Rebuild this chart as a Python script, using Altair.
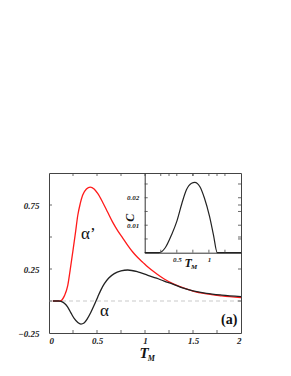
import altair as alt
import pandas as pd

# main curves: alpha' (red) and alpha (black)
t_red = [0.04, 0.10, 0.125, 0.16, 0.195, 0.22, 0.247, 0.275, 0.30, 0.325, 0.35, 0.39, 0.43, 0.47,
         0.507, 0.56, 0.61, 0.66, 0.715, 0.77, 0.82, 0.87, 0.924, 0.98, 1.03, 1.12, 1.20, 1.29,
         1.40, 1.50, 1.64, 1.80, 2.00]
alpha_prime = [0.0, 0.0, 0.003, 0.04, 0.12, 0.24, 0.38, 0.53, 0.67, 0.76, 0.826, 0.875, 0.89, 0.875,
               0.84, 0.77, 0.695, 0.62, 0.55, 0.49, 0.435, 0.385, 0.34, 0.30, 0.265, 0.213, 0.172, 0.136,
               0.102, 0.077, 0.055, 0.040, 0.026]

t_black = [0.04, 0.10, 0.125, 0.16, 0.195, 0.23, 0.264, 0.30, 0.333, 0.365, 0.40, 0.435, 0.47, 0.507,
           0.54, 0.577, 0.62, 0.68, 0.75, 0.82, 0.924, 1.03, 1.12, 1.20, 1.29, 1.40, 1.50, 1.64,
           1.80, 2.00]
alpha = [0.0, 0.0, -0.003, -0.018, -0.047, -0.095, -0.138, -0.168, -0.18, -0.172, -0.138, -0.09,
         -0.034, 0.03, 0.085, 0.135, 0.178, 0.214, 0.235, 0.242, 0.228, 0.200, 0.178, 0.155, 0.132,
         0.100, 0.080, 0.060, 0.046, 0.034]

# inset curve C(T_M)
t_inset = [0.0, 0.22, 0.32, 0.42, 0.50, 0.58, 0.65, 0.73, 0.78, 0.86, 0.93, 1.01, 1.07, 1.13, 1.5]
c_vals = [0.0, 0.0, 0.0018, 0.0066, 0.0114, 0.018, 0.0229, 0.0253, 0.0256, 0.024, 0.0199, 0.0132,
          0.0066, 0.0, 0.0]

# ticks
x_labels = [0, 0.5, 1, 1.5, 2]
y_labels = [-0.25, 0.25, 0.75]
x_ticks = [0.25, 0.5, 0.75, 1.0, 1.25, 1.5, 1.75]
y_ticks = [0.0, 0.25, 0.5, 0.75]
inset_x_labels = [0.5, 1]
inset_y_labels = [0.01, 0.02]
inset_x_ticks = [0.25, 0.5, 0.75, 1.0, 1.25]
inset_y_ticks = [0.005, 0.01, 0.015, 0.02, 0.025]

W, H = 192, 160
SERIF = "'Liberation Serif', 'Times New Roman', 'DejaVu Serif', serif"

xs = alt.Scale(domain=[0, 2], nice=False, zero=False)
ys = alt.Scale(domain=[-0.25, 1.0], nice=False, zero=False)

red_df = pd.DataFrame({"t": t_red, "v": alpha_prime})
black_df = pd.DataFrame({"t": t_black, "v": alpha})

x_axis = alt.Axis(values=x_labels, format=".1~f", ticks=False, domain=False, grid=False,
                  labelFont=SERIF, labelFontStyle="italic", labelFontWeight="bold",
                  labelFontSize=9, labelColor="#222", labelPadding=3, title=None)
y_axis = alt.Axis(values=y_labels, format=".2~f", ticks=False, domain=False, grid=False,
                  labelFont=SERIF, labelFontStyle="italic", labelFontWeight="bold",
                  labelFontSize=9, labelColor="#222", labelPadding=10, title=None)

zero_line = alt.Chart(pd.DataFrame({"y": [0.0]})).mark_rule(
    color="#bbbbbb", strokeDash=[4, 3], strokeWidth=0.8
).encode(y=alt.Y("y:Q", scale=ys, axis=y_axis))

red_line = alt.Chart(red_df).mark_line(color="#ff1a1a", strokeWidth=1.3, interpolate="monotone").encode(
    x=alt.X("t:Q", scale=xs, axis=x_axis), y=alt.Y("v:Q", scale=ys))
black_line = alt.Chart(black_df).mark_line(color="#222222", strokeWidth=1.3, interpolate="monotone").encode(
    x=alt.X("t:Q", scale=xs), y=alt.Y("v:Q", scale=ys))

xt_df = pd.DataFrame({"t": x_ticks})
yt_df = pd.DataFrame({"y": y_ticks})
tick_style = dict(color="#444", strokeWidth=0.8)
xt_bottom = alt.Chart(xt_df).mark_rule(**tick_style).encode(
    x=alt.X("t:Q", scale=xs), y=alt.value(H), y2=alt.value(H - 3))
xt_top = alt.Chart(xt_df).mark_rule(**tick_style).encode(
    x=alt.X("t:Q", scale=xs), y=alt.value(0), y2=alt.value(3))
yt_left = alt.Chart(yt_df).mark_rule(**tick_style).encode(
    y=alt.Y("y:Q", scale=ys), x=alt.value(0), x2=alt.value(3))
yt_right = alt.Chart(yt_df).mark_rule(**tick_style).encode(
    y=alt.Y("y:Q", scale=ys), x=alt.value(W), x2=alt.value(W - 3))

def txt(df, **kw):
    return alt.Chart(df).mark_text(**kw)

main_texts = [
    txt(pd.DataFrame({"t": [0.41], "v": [0.52], "s": ["α’"]}), font=SERIF, fontSize=17,
        color="#111", align="center", baseline="middle"),
    txt(pd.DataFrame({"t": [0.577], "v": [-0.08], "s": ["α"]}), font=SERIF, fontSize=17,
        color="#111", align="center", baseline="middle"),
    txt(pd.DataFrame({"t": [1.877], "v": [-0.148], "s": ["(a)"]}), font=SERIF, fontSize=14,
        fontWeight="bold", color="#111", align="center", baseline="middle"),
    txt(pd.DataFrame({"t": [0.99], "v": [-0.406], "s": ["T"]}), font=SERIF, fontSize=15,
        fontWeight="bold", fontStyle="italic", color="#111", align="center", baseline="middle"),
    txt(pd.DataFrame({"t": [1.066], "v": [-0.455], "s": ["M"]}), font=SERIF, fontSize=8,
        fontWeight="bold", fontStyle="italic", color="#111", align="center", baseline="middle"),
]
main_texts = [m.encode(x=alt.X("t:Q", scale=xs), y=alt.Y("v:Q", scale=ys), text="s:N") for m in main_texts]

main = alt.layer(zero_line, red_line, black_line, xt_bottom, xt_top, yt_left, yt_right, *main_texts)

# ---------- inset ----------
IX0, IX1 = 95.7, W
IY0, IY1 = 79.7, 0
ixs = alt.Scale(domain=[0, 1.5], range=[IX0, IX1], nice=False, zero=False)
iys = alt.Scale(domain=[0, 0.029], range=[IY0, IY1], nice=False, zero=False)

ix_axis = alt.Axis(values=inset_x_labels, format=".1~f", ticks=False, domain=True, domainColor="#333",
                   domainWidth=1, grid=False, orient="bottom", offset=-(H - IY0),
                   labelFont=SERIF, labelFontStyle="italic", labelFontWeight="bold",
                   labelFontSize=7, labelColor="#222", labelPadding=3, title=None)
iy_axis = alt.Axis(values=inset_y_labels, format=".2~f", ticks=False, domain=True, domainColor="#333",
                   domainWidth=1, grid=False, orient="left", offset=-IX0,
                   labelFont=SERIF, labelFontStyle="italic", labelFontWeight="bold",
                   labelFontSize=7, labelColor="#222", labelPadding=6, title=None)

c_line = alt.Chart(pd.DataFrame({"t": t_inset, "c": c_vals})).mark_line(
    color="#222222", strokeWidth=1.2, interpolate="monotone"
).encode(x=alt.X("t:Q", scale=ixs, axis=ix_axis), y=alt.Y("c:Q", scale=iys, axis=iy_axis))

ixt = pd.DataFrame({"t": inset_x_ticks})
iyt = pd.DataFrame({"c": inset_y_ticks})
ixt_bottom = alt.Chart(ixt).mark_rule(**tick_style).encode(
    x=alt.X("t:Q", scale=ixs), y=alt.value(IY0), y2=alt.value(IY0 - 3))
ixt_top = alt.Chart(ixt).mark_rule(**tick_style).encode(
    x=alt.X("t:Q", scale=ixs), y=alt.value(0), y2=alt.value(3))
iyt_left = alt.Chart(iyt).mark_rule(**tick_style).encode(
    y=alt.Y("c:Q", scale=iys), x=alt.value(IX0), x2=alt.value(IX0 + 3))
iyt_right = alt.Chart(iyt).mark_rule(**tick_style).encode(
    y=alt.Y("c:Q", scale=iys), x=alt.value(W), x2=alt.value(W - 3))

inset_texts = [
    txt(pd.DataFrame({"t": [0.678], "c": [-0.0037], "s": ["T"]}), font=SERIF, fontSize=12,
        fontWeight="bold", fontStyle="italic", color="#111", align="center", baseline="middle"),
    txt(pd.DataFrame({"t": [0.77], "c": [-0.0053], "s": ["M"]}), font=SERIF, fontSize=7,
        fontWeight="bold", fontStyle="italic", color="#111", align="center", baseline="middle"),
    txt(pd.DataFrame({"t": [-0.234], "c": [0.0127], "s": ["C"]}), font=SERIF, fontSize=12,
        fontWeight="bold", fontStyle="italic", color="#111", align="center", baseline="middle",
        angle=270),
]
inset_texts = [m.encode(x=alt.X("t:Q", scale=ixs), y=alt.Y("c:Q", scale=iys), text="s:N") for m in inset_texts]

inset = alt.layer(c_line, ixt_bottom, ixt_top, iyt_left, iyt_right, *inset_texts)

chart = alt.layer(main, inset).resolve_scale(x="independent", y="independent").properties(
    width=W, height=H,
    autosize=alt.AutoSizeParams(type="none"),
    padding={"left": 41, "top": 165, "right": 42, "bottom": 35},
    background="white",
).configure_view(stroke="#444", strokeWidth=1)

chart.save("out.html", embed_options={"renderer": "svg", "actions": False})
